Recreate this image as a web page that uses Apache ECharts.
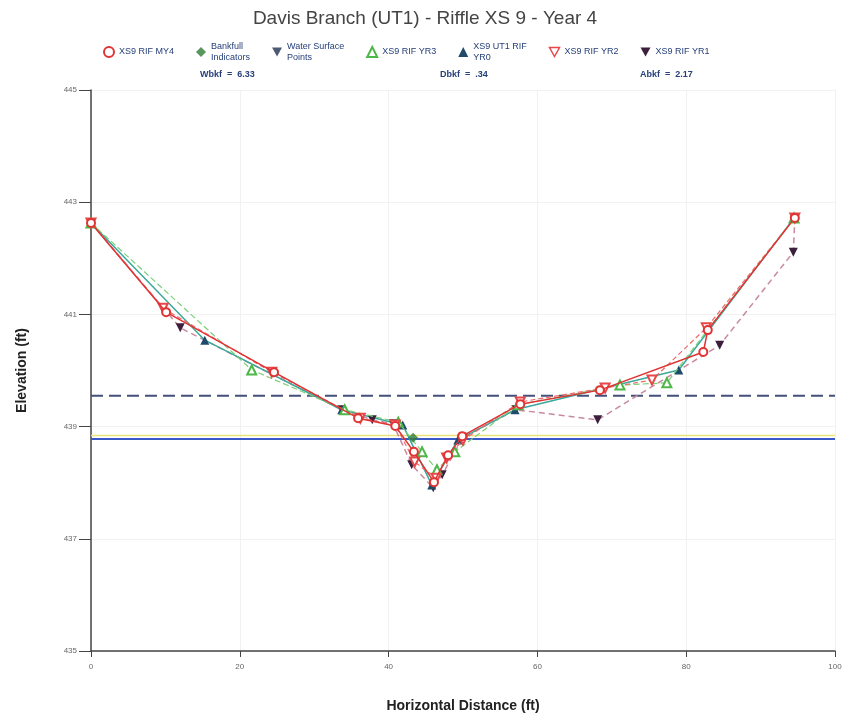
<!DOCTYPE html>
<html>
<head>
<meta charset="utf-8">
<script src="https://cdn.jsdelivr.net/npm/echarts@6/dist/echarts.min.js"></script>
<style>
  html, body { margin: 0; padding: 0; background: #fff; }
  #chart { width: 850px; height: 721px; }
</style>
</head>
<body>
<div id="chart"></div>
<script>
// Cross-section survey points: [station (ft), elevation (ft)]
const xsMY4 = [[0, 442.63], [10.1, 441.04], [24.6, 439.97], [35.9, 439.15], [40.9, 439.01], [43.4, 438.55], [46.1, 438.01], [48.0, 438.49], [49.9, 438.83], [57.7, 439.40], [68.4, 439.65], [82.3, 440.33], [82.9, 440.72], [94.6, 442.72]];
const xsYR3 = [[0, 442.63], [21.6, 440.01], [34.1, 439.30], [41.3, 439.08], [44.5, 438.55], [46.5, 438.23], [48.9, 438.55], [57.4, 439.39], [71.1, 439.74], [77.4, 439.78], [94.5, 442.72]];
const xsYR0 = [[0, 442.63], [15.3, 440.54], [33.7, 439.30], [41.9, 439.03], [45.8, 437.96], [49.3, 438.76], [57.0, 439.30], [79.0, 440.01], [94.5, 442.72]];
const xsYR2 = [[0, 442.63], [9.7, 441.11], [24.3, 439.97], [36.2, 439.15], [40.9, 439.03], [43.5, 438.37], [46.4, 438.08], [47.8, 438.44], [50.0, 438.76], [57.7, 439.44], [69.1, 439.69], [75.4, 439.83], [82.7, 440.76], [94.6, 442.72]];
const xsYR1 = [[0, 442.63], [12.0, 440.76], [33.7, 439.30], [37.8, 439.12], [40.6, 439.05], [43.1, 438.32], [46.0, 437.91], [47.2, 438.14], [50.0, 438.81], [57.1, 439.30], [68.1, 439.12], [84.5, 440.45], [94.4, 442.11], [94.6, 442.72]];
const bankfullPts = [[43.3, 438.80]];
const waterSurfacePts = [];

// Reference elevations drawn across the section
const bankfullElev = 439.55;
const waterElev = 438.78;
const waterEdgeElev = 438.84;

const xTicks = [0, 20, 40, 60, 80, 100];
const yTicks = [435, 437, 439, 441, 443, 445];

const stats = ['Wbkf  =  6.33', 'Dbkf  =  .34', 'Abkf  =  2.17'];

const names = ['XS9 RIF MY4', 'Bankfull Indicators', 'Water Surface Points', 'XS9 RIF YR3', 'XS9 UT1 RIF YR0', 'XS9 RIF YR2', 'XS9 RIF YR1'];
const wrapped = {
  'Bankfull Indicators': 'Bankfull\nIndicators',
  'Water Surface Points': 'Water Surface\nPoints',
  'XS9 UT1 RIF YR0': 'XS9 UT1 RIF\nYR0'
};

const DOWN = 'path://M0,0 L10,0 L5,9 Z';

const chart = echarts.init(document.getElementById('chart'));

function flat(v, color, type, width) {
  return {
    type: 'line', data: [[0, v], [100, v]], symbol: 'none', silent: true,
    lineStyle: { color: color, type: type, width: width }, z: 1
  };
}

chart.setOption({
  animation: false,
  backgroundColor: '#fff',
  title: {
    text: 'Davis Branch (UT1) - Riffle XS 9 - Year 4',
    left: 'center', top: 4,
    textStyle: { fontFamily: 'Liberation Sans', fontSize: 19, fontWeight: 'normal', color: '#444' }
  },
  legend: {
    top: 36, left: 98, itemGap: 22, itemWidth: 10, itemHeight: 10,
    textStyle: { fontFamily: 'Liberation Sans', fontSize: 9, color: '#27407a', lineHeight: 11 },
    formatter: n => wrapped[n] || n,
    data: [
      { name: names[0], icon: 'emptyCircle' },
      { name: names[1], icon: 'diamond' },
      { name: names[2], icon: DOWN },
      { name: names[3], icon: 'emptyTriangle' },
      { name: names[4], icon: 'triangle' },
      { name: names[5], icon: DOWN, itemStyle: { color: '#fff', borderColor: '#e8484a', borderWidth: 1.5 } },
      { name: names[6], icon: DOWN }
    ]
  },
  graphic: stats.map((s, i) => ({
    type: 'text', left: [200, 440, 640][i], top: 70,
    style: { text: s, font: 'bold 9px Liberation Sans', fill: '#27407a' }
  })),
  grid: { left: 91, right: 15, top: 90, bottom: 70 },
  xAxis: {
    type: 'value', min: 0, max: 100, interval: 20,
    name: 'Horizontal Distance (ft)', nameLocation: 'middle', nameGap: 48,
    nameTextStyle: { fontFamily: 'Liberation Sans', fontSize: 14, fontWeight: 'bold', color: '#222' },
    axisLine: { lineStyle: { color: '#444', width: 1.5 } },
    axisTick: { length: 6, lineStyle: { color: '#444' } },
    axisLabel: { fontSize: 8, color: '#666', margin: 12, formatter: v => xTicks.includes(v) ? String(v) : '' },
    splitLine: { show: true, lineStyle: { color: '#f1f1f1' } }
  },
  yAxis: {
    type: 'value', min: 435, max: 445, interval: 2,
    name: 'Elevation (ft)', nameLocation: 'middle', nameGap: 62,
    nameTextStyle: { fontFamily: 'Liberation Sans', fontSize: 14, fontWeight: 'bold', color: '#222' },
    axisLine: { show: true, lineStyle: { color: '#444', width: 1.5 } },
    axisTick: { show: true, length: 12, lineStyle: { color: '#444' } },
    axisLabel: { fontSize: 8, color: '#666', margin: 14, formatter: v => yTicks.includes(v) ? String(v) : '' },
    splitLine: { show: true, lineStyle: { color: '#f1f1f1' } }
  },
  series: [
    flat(bankfullElev, '#44507a', [12, 6], 2),
    flat(waterEdgeElev, '#e9e27a', 'solid', 1.5),
    flat(waterElev, '#3a58c8', 'solid', 2),
    {
      name: names[6], type: 'line', data: xsYR1, symbol: 'triangle', symbolRotate: 180, symbolSize: 9,
      itemStyle: { color: '#3b1f3c' }, lineStyle: { color: '#c98aa0', type: [6, 4], width: 1.5 }, z: 3
    },
    {
      name: names[4], type: 'line', data: xsYR0, symbol: 'triangle', symbolSize: 9,
      itemStyle: { color: '#1f4a6a' }, lineStyle: { color: '#3aa89a', width: 1.5 }, z: 3
    },
    {
      name: names[3], type: 'line', data: xsYR3, symbol: 'emptyTriangle', symbolSize: 9,
      itemStyle: { color: '#4cb848' }, lineStyle: { color: '#7ccf78', type: [6, 3], width: 1.2 }, z: 4
    },
    {
      name: names[5], type: 'line', data: xsYR2, symbol: 'emptyTriangle', symbolRotate: 180, symbolSize: 9,
      itemStyle: { color: '#e8484a' }, lineStyle: { color: '#ef6a6a', type: [5, 3], width: 1.2 }, z: 4
    },
    {
      name: names[0], type: 'line', data: xsMY4, symbol: 'emptyCircle', symbolSize: 8,
      itemStyle: { color: '#e03434' }, lineStyle: { color: '#e03434', width: 1.5 }, z: 5
    },
    {
      name: names[1], type: 'scatter', data: bankfullPts, symbol: 'diamond', symbolSize: 10,
      itemStyle: { color: '#2f7d34' }, z: 6
    },
    {
      name: names[2], type: 'scatter', data: waterSurfacePts, symbol: 'triangle', symbolRotate: 180, symbolSize: 9,
      itemStyle: { color: '#22314f' }, z: 6
    }
  ]
});
</script>
</body>
</html>
